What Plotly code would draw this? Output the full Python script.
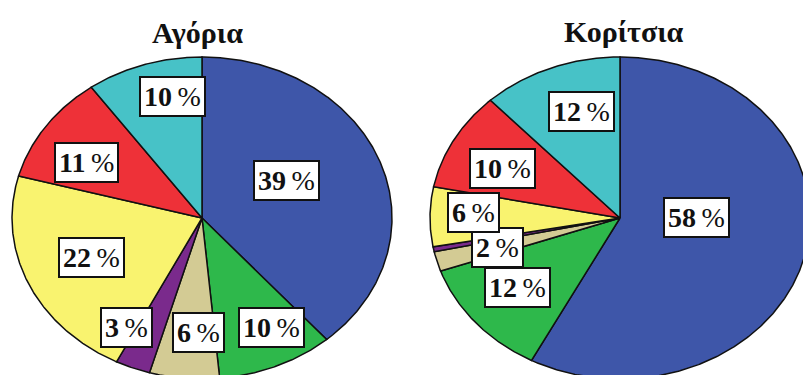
import numpy as np
import plotly.graph_objects as go

# Slice order runs clockwise from 12 o'clock
categories = ["Κατηγορία 1", "Κατηγορία 2", "Κατηγορία 3", "Κατηγορία 4",
              "Κατηγορία 5", "Κατηγορία 6", "Κατηγορία 7"]
boys = [39, 10, 6, 3, 22, 11, 10]
girls = [58, 12, 2, 0.5, 6, 10, 12]
titles = ["Αγόρια", "Κορίτσια"]

colors = ["#3E56A9", "#2EB84B", "#D3CB94", "#7A2A8C", "#F9F36F", "#EE3138", "#47C2C7"]

# Label placement: radial fraction and angular nudge (degrees) per slice
boys_label_r = [0.50, 0.77, 0.71, 0.79, 0.63, 0.70, 0.77]
boys_label_da = [-7, -5, -4, 9, 1, -5, 6]
girls_label_r = [0.40, 0.69, 0.67, 0.0, 0.77, 0.69, 0.69]
girls_label_da = [-14, 2, 0, 0, 2, -2.5, 4.5]

W, H = 803, 375
RX, RY = 190, 161          # pixel radii of each (stretched) pie
CY = 218                   # pixel row of pie centres
CX = [202, 620]            # pixel columns of pie centres

x_range = [-CX[0] / RX, (W - CX[0]) / RX]
y_range = [-(H - CY) / RY, CY / RY]
centres = [0.0, (CX[1] - CX[0]) / RX]

fig = go.Figure()
annotations = []


def add_pie(values, cx, label_r, label_da):
    total = float(sum(values))
    start = 0.0
    for v, col, lr, da in zip(values, colors, label_r, label_da):
        span = 360.0 * v / total
        ang = np.radians(np.linspace(start, start + span, max(int(span * 2), 2)))
        xs = np.concatenate([[cx], cx + np.sin(ang), [cx]])
        ys = np.concatenate([[0.0], np.cos(ang), [0.0]])
        fig.add_trace(go.Scatter(
            x=xs, y=ys, mode="lines", fill="toself", fillcolor=col,
            line=dict(color="#111111", width=1.5), hoverinfo="skip",
            showlegend=False))
        pct = round(v)
        if pct >= 1:
            mid = np.radians(start + span / 2 + da)
            lx = cx + lr * np.sin(mid)
            ly = lr * np.cos(mid)
            annotations.append(dict(
                x=lx, y=ly, xref="x", yref="y",
                text=f"<b>{pct}</b>\u2009%", showarrow=False,
                font=dict(family="Liberation Serif", size=28, color="#111111"),
                bgcolor="white", bordercolor="#111111", borderwidth=2,
                borderpad=3))
        start += span


add_pie(boys, centres[0], boys_label_r, boys_label_da)
add_pie(girls, centres[1], girls_label_r, girls_label_da)

title_px = [(197, 32), (624, 31)]
for t, (px, py) in zip(titles, title_px):
    annotations.append(dict(
        x=(px - CX[0]) / RX, y=(CY - py) / RY, xref="x", yref="y",
        text=f"<b>{t}</b>", showarrow=False,
        font=dict(family="Liberation Serif", size=30, color="#111111")))

fig.update_layout(
    width=W, height=H,
    margin=dict(l=0, r=0, t=0, b=0),
    paper_bgcolor="white", plot_bgcolor="white",
    xaxis=dict(range=x_range, visible=False, fixedrange=True),
    yaxis=dict(range=y_range, visible=False, fixedrange=True),
    annotations=annotations,
    showlegend=False,
)

fig.write_html("out.html")
